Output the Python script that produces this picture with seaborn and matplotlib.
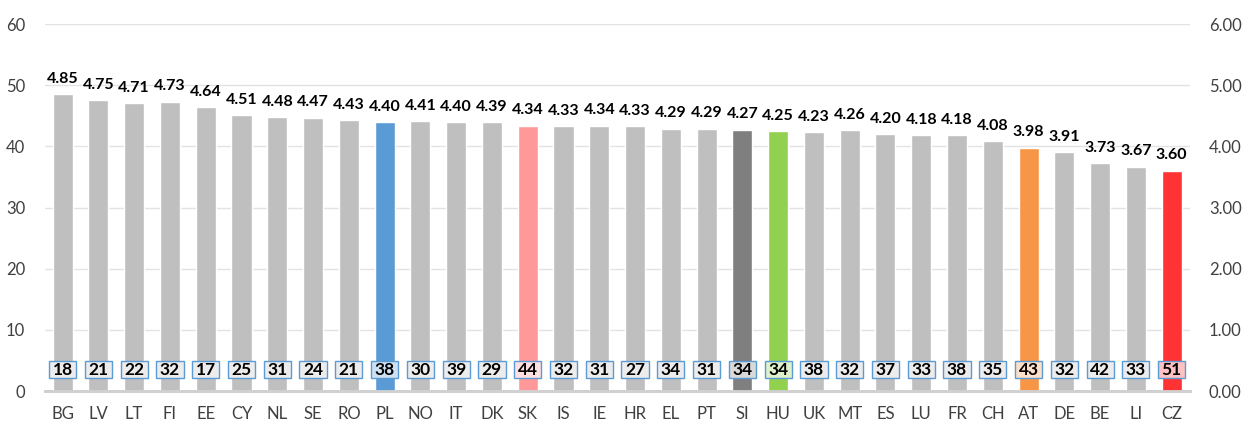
import matplotlib
matplotlib.use("Agg")
import matplotlib.pyplot as plt
import matplotlib.colors as mcolors
import seaborn as sns
import numpy as np

countries = ["BG", "LV", "LT", "FI", "EE", "CY", "NL", "SE", "RO", "PL", "NO", "IT",
             "DK", "SK", "IS", "IE", "HR", "EL", "PT", "SI", "HU", "UK", "MT", "ES",
             "LU", "FR", "CH", "AT", "DE", "BE", "LI", "CZ"]
scores = [4.85, 4.75, 4.71, 4.73, 4.64, 4.51, 4.48, 4.47, 4.43, 4.40, 4.41, 4.40,
          4.39, 4.34, 4.33, 4.34, 4.33, 4.29, 4.29, 4.27, 4.25, 4.23, 4.26, 4.20,
          4.18, 4.18, 4.08, 3.98, 3.91, 3.73, 3.67, 3.60]
box_values = [18, 21, 22, 32, 17, 25, 31, 24, 21, 38, 30, 39, 29, 44, 32, 31, 27, 34,
              31, 34, 34, 38, 32, 37, 33, 38, 35, 43, 32, 42, 33, 51]
highlight = {"PL": "#5B9BD5", "SK": "#FF9999", "SI": "#7F7F7F", "HU": "#92D050",
             "AT": "#F79646", "CZ": "#FF3333"}
default_color = "#BFBFBF"
left_ticks = [0, 10, 20, 30, 40, 50, 60]
right_ticks = [0, 1, 2, 3, 4, 5, 6]

sns.set_theme(style="white")
plt.rcParams["font.family"] = ["Lato", "DejaVu Sans"]

bar_colors = [highlight.get(c, default_color) for c in countries]

def lighten(c, f=0.3):
    r, g, b = mcolors.to_rgb(c)
    return (f * r + 1 - f, f * g + 1 - f, f * b + 1 - f)

fig = plt.figure(figsize=(12.43, 4.25), dpi=100)
ax = fig.add_axes([0.036, 0.08, 0.921, 0.8635])
ax2 = ax.twinx()

ax.set_ylim(0, 60)
ax.set_yticks(left_ticks)
ax.set_yticklabels([str(t) for t in left_ticks], fontsize=12, color="#404040")
ax.yaxis.grid(True, color="#E3E3E3", linewidth=1)
ax.set_axisbelow(True)

sns.barplot(x=countries, y=scores, hue=countries, palette=bar_colors, ax=ax2,
            width=0.56, saturation=1, legend=False, zorder=2)
ax2.set_ylim(0, 6)
ax2.set_yticks(right_ticks)
ax2.set_yticklabels([f"{t:.2f}" for t in right_ticks], fontsize=12, color="#404040")
ax2.set_xlim(-0.5, len(countries) - 0.5)
ax2.set_xlabel("")
ax2.set_ylabel("")

# value labels above bars
for i, v in enumerate(scores):
    ax2.annotate(f"{v:.2f}", (i, v), xytext=(0, 6), textcoords="offset points",
                 ha="center", va="bottom", fontsize=11.5, fontweight="bold",
                 color="#000000")

# boxes near the base
xs = np.arange(len(countries))
ax2.bar(xs, [0.28] * len(xs), bottom=0.21, width=0.76,
        color=[lighten(c) for c in bar_colors], edgecolor="#5B9BD5",
        linewidth=1, zorder=3)
for i, n in enumerate(box_values):
    ax2.text(i, 0.345, str(n), ha="center", va="center", fontsize=12.5,
             fontweight="bold", color="#000000", zorder=4)

for a in (ax, ax2):
    for s in ("top", "left", "right"):
        a.spines[s].set_visible(False)
    a.spines["bottom"].set_color("#D0D0D0")
    a.spines["bottom"].set_linewidth(2)
    a.tick_params(axis="both", length=0)

ax.set_xticks(xs)
ax.set_xticklabels(countries)
ax.tick_params(axis="x", pad=11, labelsize=12, labelcolor="#404040")
ax.tick_params(axis="y", pad=14)
ax2.tick_params(axis="y", pad=14)

fig.savefig("out.png", dpi=100)
